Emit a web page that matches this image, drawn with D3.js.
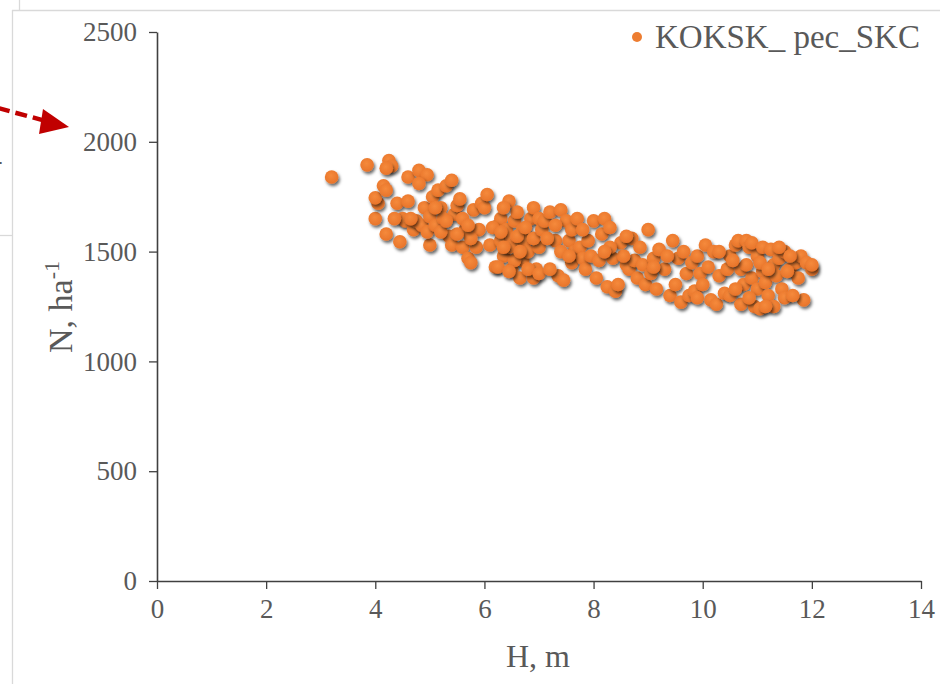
<!DOCTYPE html>
<html>
<head>
<meta charset="utf-8">
<script src="https://cdn.jsdelivr.net/npm/d3@7"></script>
<style>
  body { margin: 0; background: #fff; }
  svg { display: block; font-family: "Liberation Serif", "Times New Roman", serif; }
</style>
</head>
<body>
<div id="app"></div>
<script>
// series: H (m) and N (ha-1)
const seriesName = "KOKSK_ pec_SKC";
const heights = [
  3.2, 3.85, 4.0, 4.05, 4.0, 4.2,
  4.15, 4.2, 4.25, 4.3, 4.2, 4.4, 4.45, 4.5, 4.55, 4.6, 4.6, 4.7, 4.75, 4.8, 4.85, 4.9, 4.95, 5.0, 5.0, 4.95, 5.05, 4.8, 4.65, 4.35,
  5.1, 5.15, 5.2, 5.25, 5.3, 5.4, 5.35, 5.4, 5.45, 5.5, 5.55, 5.6, 5.65, 5.7, 5.75, 5.8, 5.85, 5.9, 5.95, 6.0, 5.6, 5.2, 5.75, 5.5, 5.3, 5.7, 5.1,
  6.05, 6.1, 6.2, 6.25, 6.3, 6.3, 6.35, 6.4, 6.45, 6.5, 6.5, 6.55, 6.6, 6.6, 6.65, 6.7, 6.7, 6.75, 6.8, 6.85, 6.9, 6.9, 6.95, 7.0, 7.0, 6.55, 6.15, 6.35,
  6.3, 6.45, 6.6, 6.75, 6.8, 6.25, 6.45, 6.65, 6.9, 7.0, 6.35,
  7.05, 7.1, 7.2, 7.3, 7.35, 7.4, 7.45, 7.5, 7.55, 7.6, 7.6, 7.65, 7.7, 7.75, 7.8, 7.85, 7.9, 7.95, 8.0, 7.4, 7.2, 7.55, 7.15, 7.8, 7.3,
  8.05, 8.1, 8.15, 8.2, 8.25, 8.3, 8.35, 8.4, 8.45, 8.5, 8.6, 8.65, 8.7, 8.75, 8.8, 8.85, 8.9, 8.95, 9.0, 8.55, 8.3, 8.6, 8.2,
  9.05, 9.1, 9.15, 9.2, 9.3, 9.4, 9.45, 9.5, 9.55, 9.6, 9.65, 9.7, 9.75, 9.8, 9.85, 9.9, 9.95, 10.0, 9.9, 9.1, 9.35,
  10.05, 10.1, 10.15, 10.2, 10.25, 10.3, 10.4, 10.45, 10.5, 10.5, 10.6, 10.65, 10.7, 10.7, 10.75, 10.8, 10.85, 10.9, 10.95, 11.0, 11.0, 10.8, 10.3,
  10.55, 10.9, 10.6, 10.85,
  11.05, 11.1, 11.1, 11.15, 11.2, 11.25, 11.3, 11.35, 11.4, 11.45, 11.5, 11.5, 11.6, 11.7, 11.75, 11.8, 11.85, 11.9, 12.0, 12.0, 11.3,
  11.05, 11.15, 11.4, 11.6, 11.2, 11.55, 11.65
];
const densities = [
  1840, 1895, 1650, 1720, 1745, 1580,
  1800, 1780, 1915, 1890, 1880, 1720, 1545, 1650, 1640, 1730, 1840, 1600, 1640, 1870, 1620, 1700, 1850, 1530, 1660, 1590, 1750, 1810, 1650, 1650,
  1620, 1780, 1700, 1650, 1800, 1825, 1570, 1530, 1670, 1710, 1740, 1520, 1600, 1470, 1450, 1690, 1520, 1600, 1720, 1700, 1650, 1590, 1560, 1580, 1640, 1620, 1700,
  1760, 1530, 1430, 1620, 1650, 1550, 1480, 1600, 1730, 1420, 1560, 1640, 1680, 1520, 1380, 1600, 1460, 1550, 1500, 1650, 1700, 1380, 1420, 1520, 1650, 1460, 1610, 1700,
  1590, 1520, 1570, 1610, 1420, 1430, 1410, 1500, 1560, 1400, 1520,
  1600, 1640, 1680, 1550, 1390, 1690, 1370, 1640, 1550, 1450, 1600, 1500, 1650, 1520, 1470, 1420, 1550, 1480, 1640, 1500, 1420, 1480, 1560, 1600, 1620,
  1380, 1460, 1580, 1650, 1340, 1610, 1470, 1320, 1350, 1540, 1440, 1420, 1560, 1460, 1380, 1520, 1440, 1350, 1600, 1480, 1520, 1570, 1500,
  1400, 1470, 1330, 1510, 1420, 1300, 1550, 1350, 1470, 1270, 1500, 1400, 1300, 1450, 1320, 1480, 1400, 1350, 1290, 1430, 1480,
  1530, 1430, 1280, 1500, 1260, 1390, 1310, 1420, 1480, 1300, 1530, 1550, 1420, 1260, 1350, 1550, 1520, 1380, 1250, 1480, 1330, 1440, 1500,
  1460, 1540, 1330, 1290,
  1240, 1520, 1410, 1360, 1300, 1510, 1440, 1390, 1470, 1330, 1500, 1290, 1420, 1450, 1380, 1480, 1280, 1450, 1420, 1440, 1250,
  1450, 1250, 1520, 1480, 1420, 1410, 1300
];
const xTicks = [0, 2, 4, 6, 8, 10, 12, 14];
const yTicks = [0, 500, 1000, 1500, 2000, 2500];

const dataset = heights.map((h, i) => [h, densities[i]]);

const w = 940;
const h = 684;
const margin = { left: 157, right: 19, top: 32, bottom: 103 };

const svg = d3.select("#app").append("svg").attr("width", w).attr("height", h);

// drop shadow + shading for the markers
const defs = svg.append("defs");
const shadow = defs.append("filter").attr("id", "shadow")
  .attr("x", "-50%").attr("y", "-50%").attr("width", "200%").attr("height", "200%");
shadow.append("feDropShadow")
  .attr("dx", 1.5).attr("dy", 2.4).attr("stdDeviation", 1.5)
  .attr("flood-color", "#000").attr("flood-opacity", 0.6);
const grad = defs.append("radialGradient").attr("id", "dotfill")
  .attr("cx", "45%").attr("cy", "40%").attr("r", "60%");
grad.append("stop").attr("offset", "0%").attr("stop-color", "#f58a3c");
grad.append("stop").attr("offset", "100%").attr("stop-color", "#e8742a");

// surrounding screenshot frame lines
const frame = svg.append("g").attr("stroke", "#d9d9d9").attr("stroke-width", 1.3);
frame.append("line").attr("x1", 12.5).attr("y1", 10).attr("x2", 12.5).attr("y2", h);
frame.append("line").attr("x1", 12).attr("y1", 10.5).attr("x2", w).attr("y2", 10.5);
frame.append("line").attr("x1", 19.5).attr("y1", 0).attr("x2", 19.5).attr("y2", 10);
frame.append("line").attr("x1", 0).attr("y1", 235.5).attr("x2", 12).attr("y2", 235.5);

// fragment of text cut off at the left (as in the source screenshot)
svg.append("text").attr("x", -12).attr("y", 168)
  .attr("font-size", 28).attr("fill", "#595959").text("4");

// scales
const scaleX = d3.scaleLinear().domain([0, 14]).range([margin.left, w - margin.right]);
const scaleY = d3.scaleLinear().domain([0, 2500]).range([h - margin.bottom, margin.top]);

// x axis
const xAxis = d3.axisBottom(scaleX).tickValues(xTicks).tickFormat(d3.format("d"))
  .tickSize(8).tickPadding(10).tickSizeOuter(0);
const gx = svg.append("g").attr("transform", "translate(0," + scaleY(0) + ")").call(xAxis);
gx.select(".domain").attr("stroke", "#404040").attr("stroke-width", 1.6);
gx.selectAll(".tick line").attr("stroke", "#404040").attr("stroke-width", 1.3);
gx.selectAll(".tick text").attr("font-size", 27).attr("fill", "#595959")
  .attr("font-family", "Liberation Serif, serif");

// y axis
const yAxis = d3.axisLeft(scaleY).tickValues(yTicks).tickFormat(d3.format("d"))
  .tickSize(8).tickPadding(12).tickSizeOuter(0);
const gy = svg.append("g").attr("transform", "translate(" + scaleX(0) + ",0)").call(yAxis);
gy.select(".domain").attr("stroke", "#404040").attr("stroke-width", 1.6);
gy.selectAll(".tick line").attr("stroke", "#404040").attr("stroke-width", 1.3);
gy.selectAll(".tick text").attr("font-size", 27).attr("fill", "#595959")
  .attr("font-family", "Liberation Serif, serif");

// axis titles
svg.append("text")
  .attr("x", (scaleX(0) + scaleX(14)) / 2 - 1).attr("y", 667)
  .attr("text-anchor", "middle").attr("font-size", 32).attr("fill", "#595959")
  .text("H, m");

const yTitle = svg.append("text")
  .attr("transform", "translate(72,307) rotate(-90)")
  .attr("text-anchor", "middle").attr("font-size", 34).attr("fill", "#595959");
yTitle.append("tspan").text("N, ha");
yTitle.append("tspan").attr("dy", -13).attr("font-size", 22).text("-1");

// points
svg.append("g")
  .selectAll("circle")
  .data(dataset)
  .enter()
  .append("circle")
  .attr("class", "dot")
  .attr("cx", (d) => scaleX(d[0]))
  .attr("cy", (d) => scaleY(d[1]))
  .attr("r", 6.8)
  .attr("fill", "url(#dotfill)")
  .attr("filter", "url(#shadow)");

// legend
const legend = svg.append("g").attr("transform", "translate(637,37)");
legend.append("circle").attr("r", 5).attr("fill", "#ed7d31");
legend.append("text").attr("x", 18).attr("y", 11)
  .attr("font-size", 33).attr("fill", "#595959").text(seriesName);

// red dashed arrow coming in from the left
svg.append("line")
  .attr("x1", -2).attr("y1", 108).attr("x2", 46).attr("y2", 121)
  .attr("stroke", "#c00000").attr("stroke-width", 4.5).attr("stroke-dasharray", "12,6");
svg.append("path")
  .attr("d", "M43,109 L69,127 L39,134 Z")
  .attr("fill", "#c00000");
</script>
</body>
</html>
